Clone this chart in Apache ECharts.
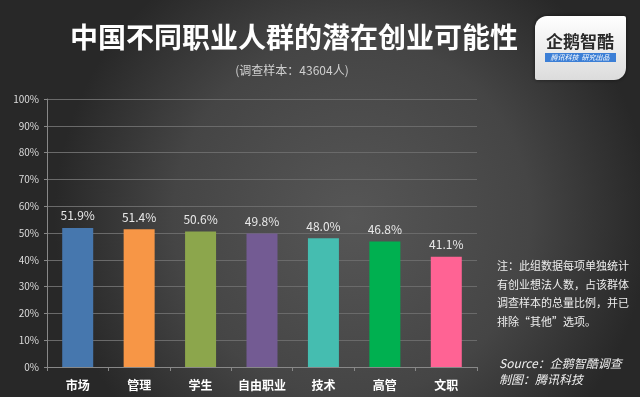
<!DOCTYPE html>
<html lang="zh">
  <head>
    <meta charset="UTF-8" />
    <title>中国不同职业人群的潜在创业可能性</title>
    <script src="https://cdn.jsdelivr.net/npm/echarts@6/dist/echarts.min.js"></script>
    <style>
      html, body { margin: 0; padding: 0; background: #333; }
      #main { width: 640px; height: 397px; }
    </style>
  </head>
  <body>
    <div id="main"></div>
    <script>
      // 职业类别
      var categories = ["市场", "管理", "学生", "自由职业", "技术", "高管", "文职"];
      // 有创业想法的比例 (%)
      var values = [51.9, 51.4, 50.6, 49.8, 48.0, 46.8, 41.1];
      var barColors = ["#4677ae", "#f79646", "#8ca64c", "#735b93", "#45bdb0", "#00b050", "#ff6394"];

      var noteLines = [
        "注：此组数据每项单独统计",
        "有创业想法人数，占该群体",
        "调查样本的总量比例，并已",
        "排除“其他”选项。"
      ];

      var font = '"Noto Sans CJK SC", "Noto Sans", sans-serif';

      var chart = echarts.init(document.getElementById("main"));

      var graphics = [
        {
          type: "text",
          x: 294,
          y: 37,
          style: {
            text: "中国不同职业人群的潜在创业可能性",
            fill: "#fff",
            font: "bold 28px " + font,
            align: "center",
            verticalAlign: "middle",
            shadowColor: "rgba(0,0,0,0.6)",
            shadowBlur: 3,
            shadowOffsetY: 1
          }
        },
        {
          type: "text",
          x: 292,
          y: 70,
          style: {
            text: "(调查样本：43604人)",
            fill: "#d0d0d0",
            font: "12px " + font,
            align: "center",
            verticalAlign: "middle"
          }
        },
        // 企鹅智酷 logo
        {
          type: "rect",
          shape: { x: 535, y: 16, width: 91, height: 64, r: [12, 2, 12, 2] },
          style: {
            fill: new echarts.graphic.LinearGradient(0, 0, 0, 1, [
              { offset: 0, color: "#ffffff" },
              { offset: 1, color: "#dcdcdc" }
            ]),
            shadowColor: "rgba(0,0,0,0.5)",
            shadowBlur: 4
          }
        },
        {
          type: "text",
          x: 580,
          y: 42,
          style: {
            text: "企鹅智酷",
            fill: "#2a2a2a",
            font: "bold 17px " + font,
            align: "center",
            verticalAlign: "middle"
          }
        },
        {
          type: "rect",
          shape: { x: 545, y: 53, width: 71, height: 9 },
          style: { fill: "#3c7fd6" }
        },
        {
          type: "text",
          x: 580,
          y: 57.5,
          style: {
            text: "腾讯科技  研究出品",
            fill: "#fff",
            font: "italic 7px " + font,
            align: "center",
            verticalAlign: "middle"
          }
        }
      ];

      noteLines.forEach(function (line, i) {
        graphics.push({
          type: "text",
          x: 497,
          y: 266 + i * 18.5,
          style: {
            text: line,
            fill: "#eeeeee",
            font: "11px " + font,
            verticalAlign: "middle"
          }
        });
      });
      graphics.push({
        type: "text",
        x: 499,
        y: 363,
        style: {
          text: "Source：企鹅智酷调查",
          fill: "#eeeeee",
          font: "italic 12px " + font,
          verticalAlign: "middle"
        }
      });
      graphics.push({
        type: "text",
        x: 499,
        y: 379,
        style: {
          text: "制图：腾讯科技",
          fill: "#eeeeee",
          font: "italic 12px " + font,
          verticalAlign: "middle"
        }
      });

      var option = {
        backgroundColor: new echarts.graphic.RadialGradient(0.55, 0.55, 0.75, [
          { offset: 0, color: "#565656" },
          { offset: 0.6, color: "#454545" },
          { offset: 1, color: "#282828" }
        ]),
        animation: false,
        textStyle: { fontFamily: font },
        grid: { left: 47, right: 163, top: 99, bottom: 30 },
        xAxis: {
          type: "category",
          data: categories,
          axisLine: { lineStyle: { color: "#888" } },
          axisTick: { show: true, length: 4, lineStyle: { color: "#888" } },
          axisLabel: {
            interval: 0,
            color: "#ffffff",
            fontSize: 12,
            fontWeight: "bold",
            margin: 12
          }
        },
        yAxis: {
          type: "value",
          min: 0,
          max: 100,
          interval: 10,
          axisLine: { show: true, lineStyle: { color: "#888" } },
          axisTick: { show: true, length: 3, lineStyle: { color: "#888" } },
          axisLabel: {
            color: "#dddddd",
            fontSize: 10,
            margin: 8,
            formatter: "{value}%"
          },
          splitLine: { lineStyle: { color: "#6a6a6a", width: 1 } }
        },
        series: [
          {
            type: "bar",
            barWidth: 31,
            data: values.map(function (v, i) {
              return { value: v, itemStyle: { color: barColors[i] } };
            }),
            label: {
              show: true,
              position: "top",
              distance: 6,
              color: "#e8e8e8",
              fontSize: 12,
              formatter: function (p) { return p.value.toFixed(1) + "%"; }
            }
          }
        ],
        graphic: graphics
      };

      chart.setOption(option);
    </script>
  </body>
</html>
